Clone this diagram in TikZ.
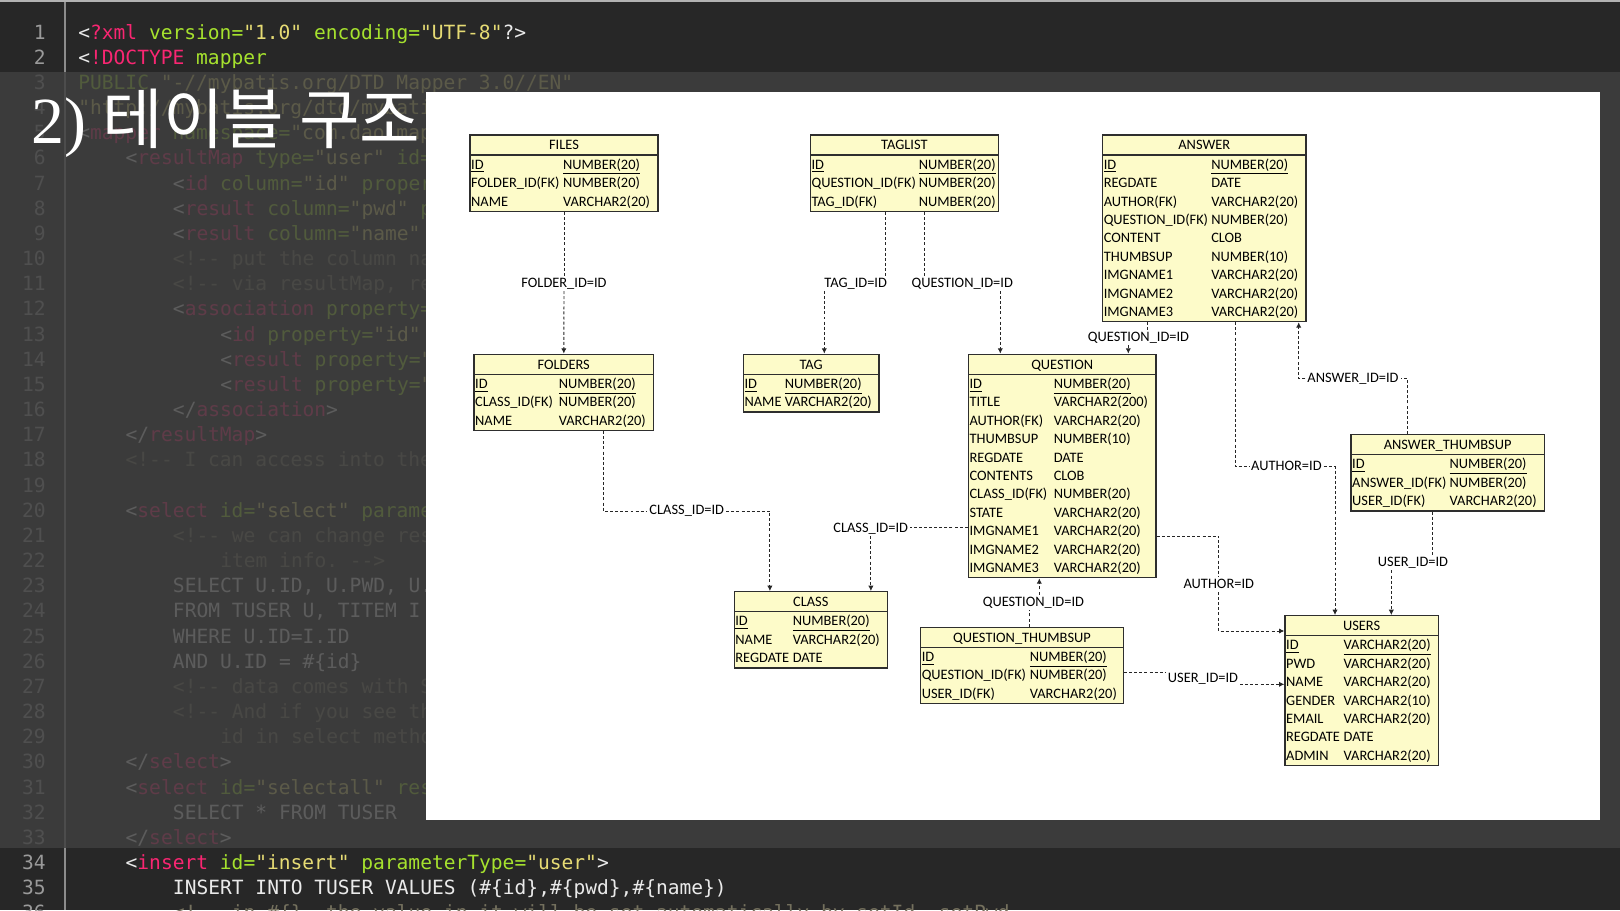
\documentclass[tikz,border=0pt]{standalone}
\usepackage{fontspec}
\setmonofont{DejaVu Sans Mono}
\newfontfamily\erfont{Carlito}
\newfontfamily\krfont{Noto Sans CJK KR}
\newfontfamily\numfont{Liberation Serif}
\usetikzlibrary{positioning,calc,fit,arrows.meta}

\definecolor{codebg}{HTML}{272727}
\definecolor{dimbg}{HTML}{404040}
\definecolor{guttergray}{HTML}{8C8C8C}
\definecolor{numgray}{HTML}{9A9A9A}
\definecolor{plainwhite}{HTML}{EAEAEA}
\definecolor{tagpink}{HTML}{F92672}
\definecolor{attrgreen}{HTML}{A6E22E}
\definecolor{stryellow}{HTML}{E6DB74}
\definecolor{comgray}{HTML}{75715E}
\definecolor{erfill}{HTML}{FDFBC9}
\definecolor{erline}{HTML}{2E2E2E}

\newcommand{\ctag}[1]{\textcolor{tagpink}{#1}}
\newcommand{\cattr}[1]{\textcolor{attrgreen}{#1}}
\newcommand{\cstr}[1]{\textcolor{stryellow}{#1}}
\newcommand{\ccom}[1]{\textcolor{comgray}{#1}}

\tikzset{
  tbl/.style={draw=erline,fill=erfill,line width=0.8pt,inner sep=0pt},
  hdr/.style={anchor=base,inner sep=0pt,font=\erfont\fontsize{8.2pt}{9.6pt}\selectfont},
  cell/.style={anchor=base west,inner sep=0pt,font=\erfont\fontsize{8.2pt}{9.6pt}\selectfont},
  fklabel/.style={inner sep=1pt,text height=5.4pt,text depth=1pt,font=\erfont\fontsize{8.2pt}{9.6pt}\selectfont},
  fk/.style={line width=0.5pt,dash pattern=on 1.7pt off 1.2pt,black!85},
  fkto/.style={fk,-{Latex[length=3pt,width=3pt]}},
  lno/.style={anchor=base east,inner sep=0pt,text=numgray,font=\ttfamily\fontsize{11.14pt}{13pt}\selectfont},
  code/.style={anchor=base west,inner sep=0pt,text=plainwhite,font=\ttfamily\fontsize{11.14pt}{13pt}\selectfont}
}

\newcommand{\ertable}[7]{%
  \coordinate (#1-nw) at (#2);
  \coordinate (#1-se) at ($(#1-nw)+(#3,{21+#5*18.4})$);
  \node[tbl,fit=(#1-nw)(#1-se)] (#1) {};
  \draw[erline,line width=0.8pt] ($(#1-nw)+(0,20)$) -- ($(#1-nw)+(#3,20)$);
  \node[hdr] (#1-h) at ($(#1-nw)+({#3/2},14.8)$) {#6};
  \foreach \nm/\ty [count=\i] in {#7} {
    \node[cell] (#1-n\i) at ($(#1-nw)+(0.8,{15.8+\i*18.4})$) {\nm};
    \node[cell] (#1-t\i) at ($(#1-nw)+(#4,{15.8+\i*18.4})$) {\ty};
  }
}

\begin{document}
\begin{tikzpicture}[x=0.02cm,y=-0.02cm]
\useasboundingbox (0,0) rectangle (1620,910);
\fill[codebg] (0,0) rectangle (1620,910);
\fill[black!30] (0,0) rectangle (1620,1.7);
\draw[guttergray,line width=0.85pt] (65,1.7) -- (65,910);

\foreach \ind/\txt [count=\k] in {
  0/{<\ctag{?xml} \cattr{version=}\cstr{"1.0"} \cattr{encoding=}\cstr{"UTF-8"}?>},
  0/{<\ctag{!DOCTYPE} \cattr{mapper}},
  0/{\cattr{PUBLIC} \cstr{"-//mybatis.org/DTD Mapper 3.0//EN"}},
  0/{\cstr{"http://mybatis.org/dtd/mybatis}},
  0/{<\ctag{mapper} \cattr{namespace=}\cstr{"com.dao.map}},
  4/{<\ctag{resultMap} \cattr{type=}\cstr{"user"} \cattr{id=}},
  8/{<\ctag{id} \cattr{column=}\cstr{"id"} \cattr{proper}},
  8/{<\ctag{result} \cattr{column=}\cstr{"pwd"} \cattr{p}},
  8/{<\ctag{result} \cattr{column=}\cstr{"name"}},
  8/{\ccom{<!-- put the column na}},
  8/{\ccom{<!-- via resultMap, re}},
  8/{<\ctag{association} \cattr{property=}},
  12/{<\ctag{id} \cattr{property=}\cstr{"id"}},
  12/{<\ctag{result} \cattr{property=}\cstr{"}},
  12/{<\ctag{result} \cattr{property=}\cstr{"}},
  8/{</\ctag{association}>},
  4/{</\ctag{resultMap}>},
  4/{\ccom{<!-- I can access into the}},
  0/{},
  4/{<\ctag{select} \cattr{id=}\cstr{"select"} \cattr{parame}},
  8/{\ccom{<!-- we can change res}},
  12/{\ccom{item info. -->}},
  8/{SELECT U.ID, U.PWD, U.},
  8/{FROM TUSER U, TITEM I},
  8/{WHERE U.ID=I.ID},
  8/{AND U.ID = \#\{id\}},
  8/{\ccom{<!-- data comes with S}},
  8/{\ccom{<!-- And if you see th}},
  12/{\ccom{id in select metho}},
  4/{</\ctag{select}>},
  4/{<\ctag{select} \cattr{id=}\cstr{"selectall"} \cattr{res}},
  8/{SELECT * FROM TUSER},
  4/{</\ctag{select}>},
  4/{<\ctag{insert} \cattr{id=}\cstr{"insert"} \cattr{parameterType=}\cstr{"user"}>},
  8/{INSERT INTO TUSER VALUES (\#\{id\},\#\{pwd\},\#\{name\})},
  8/{\ccom{<!-- in \#\{\}, the value in it will be set automatically by setId, setPwd}}
}{
  \node[lno] (n\k) at (46,{39+(\k-1)*25.17}) {\k};
  \node[code] (c\k) at ({78+\ind*11.83},{39+(\k-1)*25.17}) {\txt};
}

\fill[dimbg,opacity=0.83] (0,72) rectangle (1620,848);
\node[anchor=base west,inner sep=0pt,text=white] (title) at (31,143)
  {\fontsize{37.5pt}{44pt}\numfont 2) \krfont 테이블 구조};
\fill[white] (426,92) rectangle (1600,820);

\ertable{files}{470,135}{188}{92.7}{3}{FILES}{\underline{ID}/\underline{NUMBER(20)}, FOLDER\_ID(FK)/NUMBER(20), NAME/VARCHAR2(20)}
\ertable{taglist}{810.4,135}{188}{108}{3}{TAGLIST}{\underline{ID}/\underline{NUMBER(20)}, QUESTION\_ID(FK)/NUMBER(20), TAG\_ID(FK)/NUMBER(20)}
\ertable{answer}{1102.6,135}{203.4}{108.3}{9}{ANSWER}{\underline{ID}/\underline{NUMBER(20)}, REGDATE/DATE, AUTHOR(FK)/VARCHAR2(20), QUESTION\_ID(FK)/NUMBER(20), CONTENT/CLOB, THUMBSUP/NUMBER(10), IMGNAME1/VARCHAR2(20), IMGNAME2/VARCHAR2(20), IMGNAME3/VARCHAR2(20)}
\ertable{folders}{474,354.3}{179.4}{84.5}{3}{FOLDERS}{\underline{ID}/\underline{NUMBER(20)}, CLASS\_ID(FK)/NUMBER(20), NAME/VARCHAR2(20)}
\ertable{tag}{743.4,354.3}{135.5}{41}{2}{TAG}{\underline{ID}/\underline{NUMBER(20)}, NAME/VARCHAR2(20)}
\ertable{question}{968.4,354.3}{187.6}{85}{11}{QUESTION}{\underline{ID}/\underline{NUMBER(20)}, TITLE/VARCHAR2(200), AUTHOR(FK)/VARCHAR2(20), THUMBSUP/NUMBER(10), REGDATE/DATE, CONTENTS/CLOB, CLASS\_ID(FK)/NUMBER(20), STATE/VARCHAR2(20), IMGNAME1/VARCHAR2(20), IMGNAME2/VARCHAR2(20), IMGNAME3/VARCHAR2(20)}
\ertable{athumb}{1351,434.7}{193.3}{98.3}{3}{ANSWER\_THUMBSUP}{\underline{ID}/\underline{NUMBER(20)}, ANSWER\_ID(FK)/NUMBER(20), USER\_ID(FK)/VARCHAR2(20)}
\ertable{class}{734.2,591.7}{153.1}{58.2}{3}{CLASS}{\underline{ID}/\underline{NUMBER(20)}, NAME/VARCHAR2(20), REGDATE/DATE}
\ertable{qthumb}{920.6,627.3}{202.8}{108.9}{3}{QUESTION\_THUMBSUP}{\underline{ID}/\underline{NUMBER(20)}, QUESTION\_ID(FK)/NUMBER(20), USER\_ID(FK)/VARCHAR2(20)}
\ertable{users}{1285,615.7}{153.3}{58.3}{7}{USERS}{\underline{ID}/\underline{VARCHAR2(20)}, PWD/VARCHAR2(20), NAME/VARCHAR2(20), GENDER/VARCHAR2(10), EMAIL/VARCHAR2(20), REGDATE/DATE, ADMIN/VARCHAR2(20)}

\node[fklabel] (lfold) at (564,283.3) {FOLDER\_ID=ID};
\node[fklabel] (ltag) at (855.7,283.3) {TAG\_ID=ID};
\node[fklabel] (lqtag) at (962.3,283.3) {QUESTION\_ID=ID};
\node[fklabel] (lqans) at (1138.5,337.7) {QUESTION\_ID=ID};
\node[fklabel] (lans) at (1353,378.3) {ANSWER\_ID=ID};
\node[fklabel] (lauthA) at (1286.4,466.7) {AUTHOR=ID};
\node[fklabel] (luserA) at (1413,562.7) {USER\_ID=ID};
\node[fklabel] (lauthQ) at (1218.8,584.3) {AUTHOR=ID};
\node[fklabel] (luserQ) at (1203,678.7) {USER\_ID=ID};
\node[fklabel] (lclsF) at (686.8,511) {CLASS\_ID=ID};
\node[fklabel] (lclsQ) at (870.7,528.3) {CLASS\_ID=ID};
\node[fklabel] (lqq) at (1033.4,602.3) {QUESTION\_ID=ID};

\coordinate (tagA) at ($(taglist.south west)+(75.6,0)$);
\coordinate (tagB) at ($(tag.north west)+(81.6,0)$);
\coordinate (qtA) at ($(taglist.south west)+(114.6,0)$);
\coordinate (qtB) at ($(question.north west)+(32.6,0)$);
\coordinate (qaA) at ($(answer.south west)+(45.4,0)$);
\coordinate (qaB) at ($(question.north west)+(160.6,0)$);
\coordinate (ansA) at ($(athumb.north west)+(57,0)$);
\coordinate (ansB) at ($(answer.south east)+(-8,0)$);
\coordinate (auA) at ($(answer.south west)+(133.4,0)$);
\coordinate (auB) at ($(users.north west)+(50.7,0)$);
\coordinate (uaA) at ($(athumb.south west)+(81.7,0)$);
\coordinate (uaB) at ($(users.north west)+(107,0)$);
\coordinate (aqA) at ($(question.north east)+(0,182.4)$);
\coordinate (aqB) at ($(users.north west)+(0,16)$);
\coordinate (uqA) at ($(qthumb.north east)+(0,45.4)$);
\coordinate (uqB) at ($(users.north west)+(0,69.3)$);
\coordinate (cfA) at ($(folders.south west)+(130,0)$);
\coordinate (cfB) at ($(class.north west)+(36.4,0)$);
\coordinate (cqA) at ($(question.north west)+(0,174)$);
\coordinate (cqB) at ($(class.north west)+(137.4,0)$);
\coordinate (qqA) at ($(qthumb.north west)+(109.4,0)$);
\coordinate (qqB) at ($(question.south west)+(71.6,0)$);

\draw[fk] (files) -- (lfold);
\draw[fkto] (lfold) -- (folders);
\draw[fk] (tagA) -- (tagA |- ltag.north);
\draw[fkto] (tagB |- ltag.south) -- (tagB);
\draw[fk] (qtA) -- (qtA |- lqtag.north);
\draw[fkto] (qtB |- lqtag.south) -- (qtB);
\draw[fk] (qaA) -- (qaA |- lqans.north);
\draw[fkto] (qaB |- lqans.south) -- (qaB);
\draw[fk] (ansA) |- (lans.east);
\draw[fkto] (lans.west) -| (ansB);
\draw[fk] (auA) |- (lauthA.west);
\draw[fkto] (lauthA.east) -| (auB);
\draw[fk] (uaA) -- (uaA |- luserA.north);
\draw[fkto] (uaB |- luserA.south) -- (uaB);
\draw[fk] (aqA) -| (lauthQ.north);
\draw[fkto] (lauthQ.south) |- (aqB);
\draw[fk] (uqA) -- (uqA -| luserQ.west);
\draw[fkto] (uqB -| luserQ.east) -- (uqB);
\draw[fk] (cfA) |- (lclsF.west);
\draw[fkto] (lclsF.east) -| (cfB);
\draw[fk] (cqA) -- (cqA -| lclsQ.east);
\draw[fkto] (cqB |- lclsQ.south) -- (cqB);
\draw[fk] (qqA) -- (qqA |- lqq.south);
\draw[fkto] (qqB |- lqq.north) -- (qqB);
\end{tikzpicture}
\end{document}
